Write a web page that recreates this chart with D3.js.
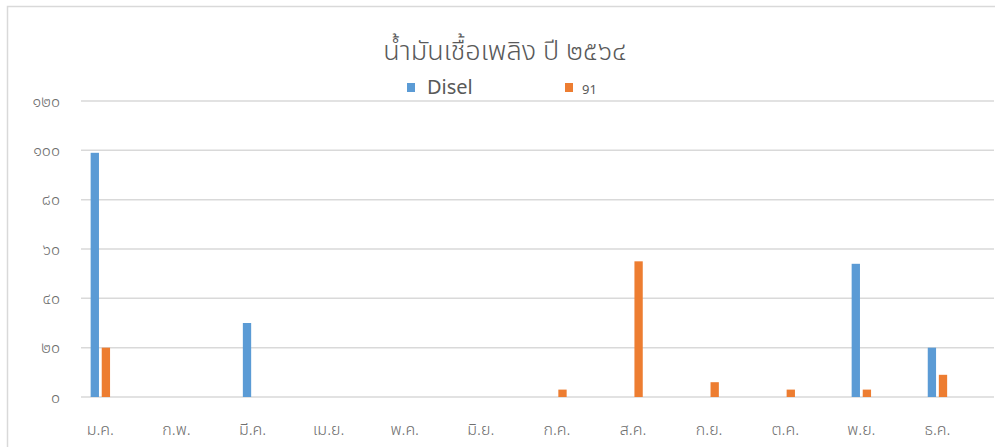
<!DOCTYPE html>
<html>
<head>
<meta charset="utf-8">
<script src="https://cdn.jsdelivr.net/npm/d3@7"></script>
<style>
  body { margin: 0; background: #fff; }
  svg { display: block; font-family: "Noto Sans Thai", "Leelawadee UI", Tahoma, "DejaVu Sans", sans-serif; }
</style>
</head>
<body>
<div id="chart"></div>
<script>
'use strict'

// data
const months = ['ม.ค.', 'ก.พ.', 'มี.ค.', 'เม.ย.', 'พ.ค.', 'มิ.ย.', 'ก.ค.', 'ส.ค.', 'ก.ย.', 'ต.ค.', 'พ.ย.', 'ธ.ค.']
const seriesNames = ['Disel', '91']
const diselValues = [99, 0, 30, 0, 0, 0, 0, 0, 0, 0, 54, 20]
const ron91Values = [20, 0, 0, 0, 0, 0, 3, 55, 6, 3, 3, 9]
const yTicks = [0, 20, 40, 60, 80, 100, 120]
const colors = ['#5b9bd5', '#ed7d31']

const thaiDigits = '๐๑๒๓๔๕๖๗๘๙'
const toThai = n => String(n).replace(/[0-9]/g, c => thaiDigits[+c])

const svgWidth = 995, svgHeight = 447

const svg = d3.select('#chart')
    .append('svg')
    .attr('width', svgWidth)
    .attr('height', svgHeight)

// chart frame (right and bottom edges fall outside the picture)
svg.append('rect')
    .attr('x', 7.5)
    .attr('y', 6.5)
    .attr('width', 1100)
    .attr('height', 500)
    .style('fill', 'none')
    .style('stroke', '#d9d9d9')
    .style('stroke-width', 1.5)

// scales
const y = d3.scaleLinear()
    .domain([0, 120])
    .range([397, 101])

const x = d3.scaleBand()
    .domain(months)
    .range([62.3, 975.5])

const x1 = d3.scaleBand()
    .domain(seriesNames)
    .range([-9.7, 9.7])
    .paddingInner(0.25)

// gridlines
svg.append('g')
    .selectAll('line')
    .data(yTicks)
    .join('line')
    .attr('x1', 81)
    .attr('x2', 994)
    .attr('y1', d => y(d))
    .attr('y2', d => y(d))
    .style('stroke', '#d9d9d9')
    .style('stroke-width', 1.5)

// y tick labels
svg.append('g')
    .selectAll('text')
    .data(yTicks)
    .join('text')
    .attr('x', 60)
    .attr('y', d => y(d))
    .attr('dy', '0.35em')
    .attr('text-anchor', 'end')
    .style('font-size', '16px')
    .style('font-weight', 300)
    .style('fill', '#6f6f6f')
    .text(d => toThai(d))

// x labels
svg.append('g')
    .selectAll('text')
    .data(months)
    .join('text')
    .attr('x', d => x(d) + x.bandwidth() / 2)
    .attr('y', 435)
    .attr('text-anchor', 'middle')
    .style('font-size', '16px')
    .style('font-weight', 300)
    .style('fill', '#6f6f6f')
    .text(d => d)

// bars
const rows = months.map((m, i) => ({ month: m, values: [diselValues[i], ron91Values[i]] }))

const groups = svg.append('g')
    .selectAll('g')
    .data(rows)
    .join('g')
    .attr('transform', d => `translate(${x(d.month) + x.bandwidth() / 2},0)`)

groups.selectAll('rect')
    .data(d => d.values.map((v, j) => ({ name: seriesNames[j], value: v, color: colors[j] })))
    .join('rect')
    .attr('x', d => x1(d.name))
    .attr('width', x1.bandwidth())
    .attr('y', d => y(d.value))
    .attr('height', d => y(0) - y(d.value))
    .style('fill', d => d.color)
    .style('display', d => d.value > 0 ? null : 'none')

// title
svg.append('text')
    .attr('x', 505)
    .attr('y', 60)
    .attr('text-anchor', 'middle')
    .style('font-size', '27px')
    .style('font-weight', 300)
    .style('fill', '#595959')
    .text('น้ำมันเชื้อเพลิง ปี ๒๕๖๔')

// legend
const legendItems = [
    { name: 'Disel', color: colors[0], x: 407, size: 20 },
    { name: '91', color: colors[1], x: 565, size: 13 }
]

const legend = svg.append('g')
    .selectAll('g')
    .data(legendItems)
    .join('g')
    .attr('transform', d => `translate(${d.x},0)`)

legend.append('rect')
    .attr('x', 0)
    .attr('y', 83)
    .attr('width', 8)
    .attr('height', 9)
    .style('fill', d => d.color)

legend.append('text')
    .attr('x', d => d.size > 15 ? 20 : 17)
    .attr('y', 94)
    .style('font-size', d => d.size + 'px')
    .style('fill', '#595959')
    .text(d => d.name)
</script>
</body>
</html>
